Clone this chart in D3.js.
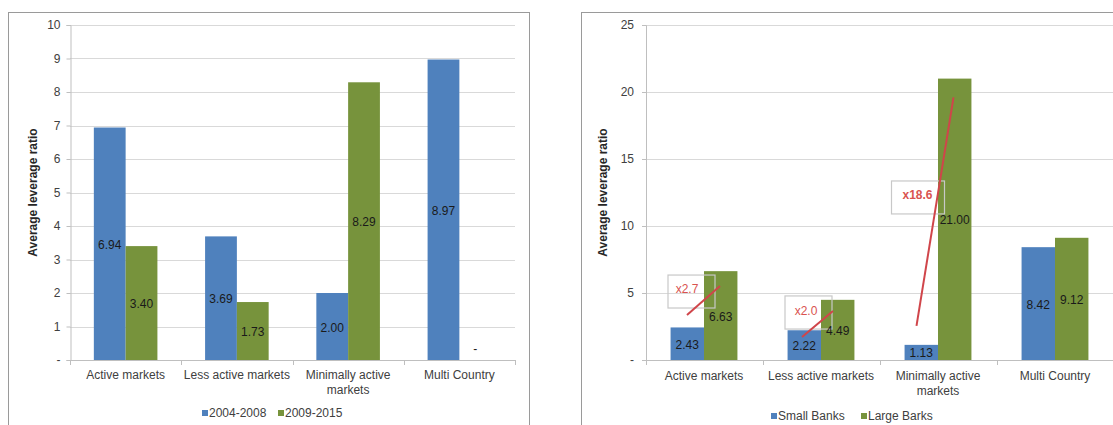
<!DOCTYPE html>
<html>
<head>
<meta charset="utf-8">
<script src="https://cdn.jsdelivr.net/npm/d3@7"></script>
<style>
  html, body { margin: 0; padding: 0; background: #ffffff; }
  svg { display: block; font-family: "Liberation Sans", Arial, "DejaVu Sans", sans-serif; }
</style>
</head>
<body>
<script>
// ---------------- DATA ----------------
const categoryLines = [["Active markets"], ["Less active markets"], ["Minimally active", "markets"], ["Multi Country"]];

// Left chart
const periodNames = ["2004-2008", "2009-2015"];
const period2004to2008 = [6.94, 3.69, 2.00, 8.97];
const period2009to2015 = [3.40, 1.73, 8.29, 0];
const leftTicks = [0, 1, 2, 3, 4, 5, 6, 7, 8, 9, 10];

// Right chart
const bankNames = ["Small Banks", "Large Barks"];
const smallBanks = [2.43, 2.22, 1.13, 8.42];
const largeBanks = [6.63, 4.49, 21.00, 9.12];
const rightTicks = [0, 5, 10, 15, 20, 25];

// Multiplier annotations (values in chart units)
const multiplierLabels = ["x2.7", "x2.0", "x18.6"];
const multiplierFrom = [3.36, 1.72, 2.54];
const multiplierTo = [5.52, 3.66, 19.6];
const multiplierBoxTop = [6.34, 4.78, 13.36];
const multiplierBoxBottom = [3.88, 2.31, 10.9];
const multiplierTextAt = [5.3, 3.66, 12.3];

// ---------------- LAYOUT / STYLE ----------------
const W = 1113, H = 425;
const BLUE = "#4f81bd", GREEN = "#77933c";
const svg = d3.select("body").append("svg").attr("width", W).attr("height", H);

function drawChart(o) {
  const g = svg.append("g");
  // outer chart border
  g.append("rect").attr("x", o.borderX + 0.5).attr("y", 12.5)
    .attr("width", o.borderW).attr("height", 460)
    .attr("fill", "#fff").attr("stroke", "#9a9a9a").attr("stroke-width", 1);

  const x = d3.scaleBand().domain(d3.range(o.cats.length)).range([o.x0, o.x1]).paddingInner(0).paddingOuter(0);
  const y = d3.scaleLinear().domain([0, o.max]).range([o.yBase, o.yTop]);
  const bw = x.bandwidth() / 3.5;

  // gridlines
  g.append("g").selectAll("line").data(o.ticks.filter(t => t > 0)).join("line")
    .attr("x1", o.x0).attr("x2", o.x1)
    .attr("y1", d => Math.round(y(d)) + 0.5).attr("y2", d => Math.round(y(d)) + 0.5)
    .attr("stroke", "#d9d9d9").attr("stroke-width", 1.2);

  // y axis
  const yAxis = g.append("g").attr("transform", `translate(${o.x0 + 0.5},0)`)
    .call(d3.axisLeft(y).tickValues(o.ticks).tickSize(4).tickPadding(o.tickPad)
      .tickFormat(t => t === 0 ? "-" : String(t)));
  yAxis.select(".domain").attr("stroke", "#bfbfbf");
  yAxis.selectAll(".tick line").attr("stroke", "#bfbfbf");
  yAxis.selectAll(".tick text").attr("fill", "#404040").attr("font-size", 12)
    .attr("font-family", "Liberation Sans, Arial, sans-serif");

  // y title
  g.append("text")
    .attr("transform", `translate(${o.titleX},${(o.yTop + o.yBase) / 2}) rotate(-90)`)
    .attr("text-anchor", "middle").attr("dominant-baseline", "central")
    .attr("font-size", 12).attr("font-weight", "bold").attr("fill", "#262626")
    .text("Average leverage ratio");

  // bars
  o.series.forEach((s, si) => {
    g.append("g").selectAll("rect").data(s.values).join("rect")
      .attr("x", (d, i) => x(i) + x.bandwidth() / 2 - bw + si * bw)
      .attr("y", d => y(d))
      .attr("width", bw)
      .attr("height", d => y(0) - y(d))
      .attr("fill", s.color);
  });

  // x axis line + category ticks
  g.append("line").attr("x1", o.x0).attr("x2", o.x1)
    .attr("y1", o.yBase + 0.5).attr("y2", o.yBase + 0.5)
    .attr("stroke", "#bfbfbf").attr("stroke-width", 1);
  const bounds = d3.range(o.cats.length).map(i => x(i)).concat([o.x1]);
  g.append("g").selectAll("line").data(bounds).join("line")
    .attr("x1", d => Math.round(d) + 0.5).attr("x2", d => Math.round(d) + 0.5)
    .attr("y1", o.yBase).attr("y2", o.yBase + 5)
    .attr("stroke", "#bfbfbf");

  // category labels
  const cl = g.append("g").selectAll("text").data(o.cats).join("text")
    .attr("x", (d, i) => x(i) + x.bandwidth() / 2)
    .attr("text-anchor", "middle").attr("font-size", 12).attr("fill", "#404040");
  cl.selectAll("tspan").data(d => d).join("tspan")
    .attr("x", function () { return d3.select(this.parentNode).attr("x"); })
    .attr("y", (d, j) => o.catY + j * 14.5)
    .attr("dominant-baseline", "central")
    .text(d => d);

  o.extra && o.extra(g, x, y, bw);

  // data labels
  o.series.forEach((s, si) => {
    g.append("g").selectAll("text").data(s.values).join("text")
      .attr("x", (d, i) => x(i) + x.bandwidth() / 2 - bw / 2 + si * bw)
      .attr("y", d => d === 0 ? y(0) - 11 : (y(0) + y(d)) / 2 + 1)
      .attr("text-anchor", "middle").attr("dominant-baseline", "central")
      .attr("font-size", 12).attr("fill", "#1a1a1a")
      .text(d => d === 0 ? "-" : d.toFixed(2));
  });

  // legend
  const lg = g.append("g").selectAll("g").data(o.series).join("g")
    .attr("transform", (d, i) => `translate(${o.legendX[i]},${o.legendY})`);
  lg.append("rect").attr("x", 0).attr("y", -3).attr("width", 6).attr("height", 6).attr("fill", d => d.color);
  lg.append("text").attr("x", 7).attr("y", 0).attr("dominant-baseline", "central")
    .attr("font-size", 12).attr("fill", "#404040").text(d => d.name);
}

// Left chart
drawChart({
  borderX: 8, borderW: 521,
  x0: 70, x1: 515, yTop: 25, yBase: 360, max: 10, ticks: leftTicks, tickPad: 6,
  titleX: 33, catY: 375, legendY: 413, legendX: [202, 278],
  cats: categoryLines,
  series: [
    { name: periodNames[0], values: period2004to2008, color: BLUE },
    { name: periodNames[1], values: period2009to2015, color: GREEN }
  ]
});

// Right chart
const lineDx = [[-17, 16], [-19, 12], [-21.5, 15.5]];
const boxDx = [[-36, 11], [-36, 11], [-46.5, 6.5]];
const textDx = [-17, -15, -20.5];
drawChart({
  borderX: 581, borderW: 600,
  x0: 645.5, x1: 1113.5, yTop: 25, yBase: 360, max: 25, ticks: rightTicks, tickPad: 8,
  titleX: 603, catY: 376, legendY: 416, legendX: [771, 861],
  cats: categoryLines,
  series: [
    { name: bankNames[0], values: smallBanks, color: BLUE },
    { name: bankNames[1], values: largeBanks, color: GREEN }
  ],
  extra: (g, x, y, bw) => {
    const a = g.append("g");
    multiplierLabels.forEach((lab, i) => {
      const cx = x(i) + x.bandwidth() / 2;
      a.append("rect")
        .attr("x", cx + boxDx[i][0]).attr("y", y(multiplierBoxTop[i]))
        .attr("width", boxDx[i][1] - boxDx[i][0])
        .attr("height", y(multiplierBoxBottom[i]) - y(multiplierBoxTop[i]))
        .attr("fill", "none").attr("stroke", "#c8c8c8").attr("stroke-width", 1.2);
      a.append("text")
        .attr("x", cx + textDx[i]).attr("y", y(multiplierTextAt[i]))
        .attr("text-anchor", "middle").attr("dominant-baseline", "central")
        .attr("font-size", 12).attr("font-weight", i === 2 ? "bold" : "normal")
        .attr("fill", "#d9534f").text(lab);
      a.append("line")
        .attr("x1", cx + lineDx[i][0]).attr("y1", y(multiplierFrom[i]))
        .attr("x2", cx + lineDx[i][1]).attr("y2", y(multiplierTo[i]))
        .attr("stroke", "#d0454a").attr("stroke-width", 2);
    });
  }
});
</script>
</body>
</html>
